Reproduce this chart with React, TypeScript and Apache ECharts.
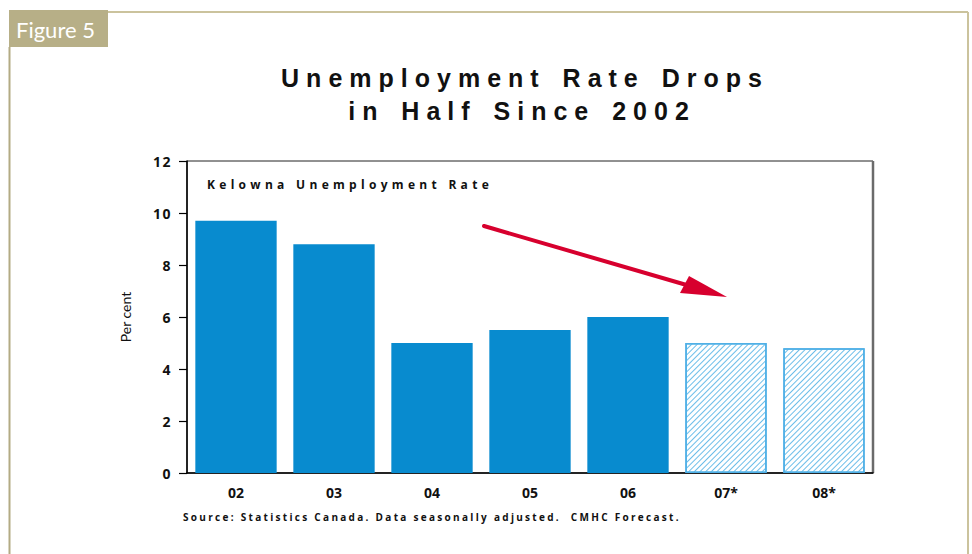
import React, { useEffect, useRef } from "react";
import * as echarts from "echarts";

const categories = ["02", "03", "04", "05", "06", "07*", "08*"];
const rates = [9.7, 8.8, 5.0, 5.5, 6.0, 5.0, 4.8];
const forecast = [false, false, false, false, false, true, true];
const yTicks = { min: 0, max: 12, interval: 2 };
const titleLines = ["Unemployment Rate Drops", "in Half Since 2002"];
const subTitle = "Kelowna Unemployment Rate";
const sourceText = "Source: Statistics Canada. Data seasonally adjusted.  CMHC Forecast.";
const yName = "Per cent";
const figureLabel = "Figure 5";

const spacingRules: [(s: string) => boolean, string, string][] = [
  [(s) => titleLines.includes(s), "7px", "3px"],
  [(s) => s === subTitle, "4.3px", "0px"],
  [(s) => s === sourceText, "2.3px", "0px"],
  [(s) => /^\d+$/.test(s) && s.length <= 2 && !categories.includes(s), "1.5px", "0px"],
];

export default function App() {
  const ref = useRef<HTMLDivElement>(null);
  useEffect(() => {
    document.body.style.margin = "0";
    const el = ref.current!;
    const chart = echarts.init(el, null, { renderer: "svg" });
    const blue = "#088bcf";
    const frame = "#cbc39d";
    const sans = "'Open Sans'";
    chart.setOption({
      animation: false,
      backgroundColor: "#ffffff",
      grid: {
        left: 187,
        top: 161,
        width: 686,
        height: 312,
        show: true,
        borderColor: "#222",
        borderWidth: 1,
        backgroundColor: "transparent",
      },
      xAxis: {
        type: "category",
        data: categories,
        axisLine: { lineStyle: { color: "#000", width: 1.5 } },
        axisTick: { show: false },
        axisLabel: {
          color: "#111",
          fontFamily: sans,
          fontWeight: "bold",
          fontSize: 14,
          margin: 12,
        },
      },
      yAxis: {
        type: "value",
        min: yTicks.min,
        max: yTicks.max,
        interval: yTicks.interval,
        name: yName,
        nameLocation: "middle",
        nameRotate: 90,
        nameGap: 55,
        nameTextStyle: { fontFamily: "Lato", fontSize: 14, color: "#111" },
        splitLine: { show: false },
        axisLine: { show: true, lineStyle: { color: "#000", width: 1.5 } },
        axisTick: { show: true, length: 8, lineStyle: { color: "#000", width: 1.2 } },
        axisLabel: {
          color: "#111",
          fontFamily: sans,
          fontWeight: "bold",
          fontSize: 14,
          margin: 15,
        },
      },
      series: [
        {
          type: "bar",
          barCategoryGap: "17%",
          data: rates.map((v, i) =>
            forecast[i]
              ? {
                  value: v,
                  itemStyle: {
                    color: "#ffffff",
                    borderColor: "#4fb0e6",
                    borderWidth: 1.5,
                    decal: {
                      symbol: "rect",
                      symbolSize: 1,
                      symbolKeepAspect: false,
                      color: "#6bbde9",
                      backgroundColor: "rgba(255,255,255,0)",
                      dashArrayX: [1, 0],
                      dashArrayY: [1, 3],
                      rotation: -Math.PI / 4,
                    },
                  },
                }
              : { value: v, itemStyle: { color: blue } }
          ),
        },
      ],
      graphic: [
        { type: "line", shape: { x1: 108, y1: 12, x2: 968, y2: 12 }, style: { stroke: frame, lineWidth: 2 } },
        { type: "line", shape: { x1: 968, y1: 12, x2: 968, y2: 554 }, style: { stroke: frame, lineWidth: 2 } },
        { type: "line", shape: { x1: 9.5, y1: 47, x2: 9.5, y2: 554 }, style: { stroke: "#b3ab84", lineWidth: 2 } },
        { type: "rect", shape: { x: 9, y: 10, width: 99, height: 37 }, style: { fill: "#b7af87" } },
        {
          type: "text",
          x: 16,
          y: 29,
          style: { text: figureLabel, fill: "#fff", font: "22px Lato", textVerticalAlign: "middle" },
        },
        {
          type: "text",
          x: 525,
          y: 78,
          style: {
            text: titleLines[0],
            fill: "#111",
            font: "bold 25px 'Liberation Sans'",
            textAlign: "center",
            textVerticalAlign: "middle",
          },
        },
        {
          type: "text",
          x: 522,
          y: 111,
          style: {
            text: titleLines[1],
            fill: "#111",
            font: "bold 25px 'Liberation Sans'",
            textAlign: "center",
            textVerticalAlign: "middle",
          },
        },
        {
          type: "text",
          x: 207,
          y: 184,
          style: { text: subTitle, fill: "#111", font: "bold 12px 'Open Sans'", textVerticalAlign: "middle" },
        },
        {
          type: "text",
          x: 183,
          y: 517,
          style: { text: sourceText, fill: "#111", font: "bold 10px 'Open Sans'", textVerticalAlign: "middle" },
        },
        { type: "line", shape: { x1: 873, y1: 161, x2: 873, y2: 473 }, style: { stroke: "#6b6b6b", lineWidth: 2.5 } },
        {
          type: "line",
          shape: { x1: 484, y1: 226, x2: 690, y2: 286 },
          style: { stroke: "#d7002e", lineWidth: 4, lineCap: "round" },
        },
        {
          type: "polygon",
          shape: { points: [[680, 293], [689, 276], [727, 297]] },
          style: { fill: "#d7002e" },
        },
      ],
    });
    const applySpacing = () => {
      el.querySelectorAll("text").forEach((t) => {
        const s = (t.textContent || "").trim();
        for (const [test, sp, ws] of spacingRules) {
          if (test(s)) {
            (t as SVGTextElement).style.letterSpacing = sp;
            (t as SVGTextElement).style.wordSpacing = ws;
            break;
          }
        }
      });
    };
    applySpacing();
    chart.on("finished", applySpacing);
    return () => chart.dispose();
  }, []);
  return <div ref={ref} style={{ width: 972, height: 554 }} />;
}
